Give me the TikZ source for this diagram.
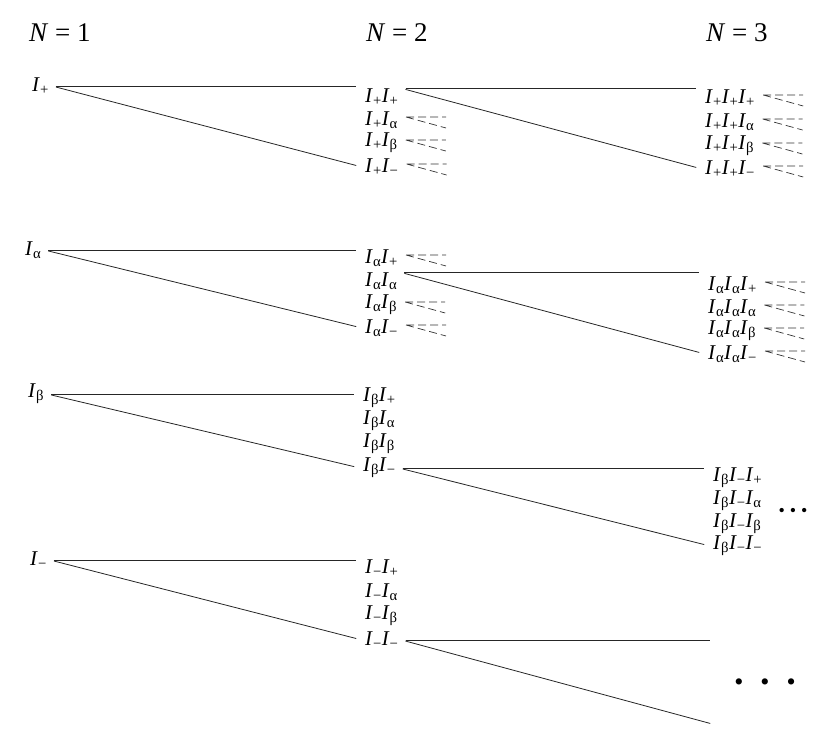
\documentclass[tikz,border=0pt]{standalone}
\usepackage{fontspec}
\setmainfont{Liberation Serif}
\newcommand{\Isub}[1]{\textit{I}\textsubscript{#1}}
\tikzset{
  lab/.style={anchor=west, inner xsep=3pt, inner ysep=0pt, font=\fontsize{21}{24}\selectfont},
  head/.style={anchor=west, inner sep=0pt, font=\fontsize{27}{30}\selectfont},
  branch/.style={line width=0.8pt, black!85, shorten <=4pt, shorten >=6pt},
  fan/.style={line width=0.7pt, black!80, dash pattern=on 8pt off 4pt}
}
\begin{document}
\begin{tikzpicture}[x=1pt, y=-1pt]
    \useasboundingbox (0,0) rectangle (840,747);

    % Column headings
    \node[head] (n1) at (29,33) {\textit{N} = 1};
    \node[head] (n2) at (366,33) {\textit{N} = 2};
    \node[head] (n3) at (706,33) {\textit{N} = 3};

    % N = 1 column
    \node[lab] (Ip) at (29,86) {\Isub{+}};
    \node[lab] (Ia) at (22,250) {\Isub{α}};
    \node[lab] (Ib) at (25,394) {\Isub{β}};
    \node[lab] (Im) at (27,560) {\Isub{−}};

    % N = 2 column, first letter +
    \node[lab] (Ipp) at (362,97) {\Isub{+}\Isub{+}};
    \node[lab] (Ipa) at (362,120) {\Isub{+}\Isub{α}};
    \node[lab] (Ipb) at (362,143) {\Isub{+}\Isub{β}};
    \node[lab] (Ipm) at (362,167) {\Isub{+}\Isub{−}};

    % N = 2 column, first letter alpha
    \node[lab] (Iap) at (362,258) {\Isub{α}\Isub{+}};
    \node[lab] (Iaa) at (362,281) {\Isub{α}\Isub{α}};
    \node[lab] (Iab) at (362,305) {\Isub{α}\Isub{β}};
    \node[lab] (Iam) at (362,328) {\Isub{α}\Isub{−}};

    % N = 2 column, first letter beta
    \node[lab] (Ibp) at (360,398) {\Isub{β}\Isub{+}};
    \node[lab] (Iba) at (360,421) {\Isub{β}\Isub{α}};
    \node[lab] (Ibb) at (360,444) {\Isub{β}\Isub{β}};
    \node[lab] (Ibm) at (360,468) {\Isub{β}\Isub{−}};

    % N = 2 column, first letter minus
    \node[lab] (Imp) at (362,568) {\Isub{−}\Isub{+}};
    \node[lab] (Ima) at (362,592) {\Isub{−}\Isub{α}};
    \node[lab] (Imb) at (362,616) {\Isub{−}\Isub{β}};
    \node[lab] (Imm) at (362,640) {\Isub{−}\Isub{−}};

    % N = 3 column
    \node[lab] (Ippp) at (702,98) {\Isub{+}\Isub{+}\Isub{+}};
    \node[lab] (Ippa) at (702,122) {\Isub{+}\Isub{+}\Isub{α}};
    \node[lab] (Ippb) at (702,146) {\Isub{+}\Isub{+}\Isub{β}};
    \node[lab] (Ippm) at (702,169) {\Isub{+}\Isub{+}\Isub{−}};

    \node[lab] (Iaap) at (705,285) {\Isub{α}\Isub{α}\Isub{+}};
    \node[lab] (Iaaa) at (705,308) {\Isub{α}\Isub{α}\Isub{α}};
    \node[lab] (Iaab) at (705,331) {\Isub{α}\Isub{α}\Isub{β}};
    \node[lab] (Iaam) at (705,354) {\Isub{α}\Isub{α}\Isub{−}};

    \node[lab] (Ibmp) at (710,478) {\Isub{β}\Isub{−}\Isub{+}};
    \node[lab] (Ibma) at (710,501) {\Isub{β}\Isub{−}\Isub{α}};
    \node[lab] (Ibmb) at (710,524) {\Isub{β}\Isub{−}\Isub{β}};
    \node[lab] (Ibmm) at (710,546) {\Isub{β}\Isub{−}\Isub{−}};

    % Branches from N = 1 to N = 2
    \draw[branch] (Ip.east) -- (Ip.east -| Ipp.west);
    \draw[branch] (Ip.east) -- (Ipm.west);
    \draw[branch] (Ia.east) -- (Ia.east -| Iap.west);
    \draw[branch] (Ia.east) -- (Iam.west);
    \draw[branch] (Ib.east) -- (Ib.east -| Ibp.west);
    \draw[branch] (Ib.east) -- (Ibm.west);
    \draw[branch] (Im.east) -- (Im.east -| Imp.west);
    \draw[branch] (Im.east) -- (Imm.west);

    % Branches from N = 2 to N = 3
    \draw[branch] (Ipp.north east) -- (Ipp.north east -| Ippp.west);
    \draw[branch] (Ipp.north east) -- (Ippm.west);
    \draw[branch] (Iaa.north east) -- (Iaa.north east -| Iaap.west);
    \draw[branch] (Iaa.north east) -- (Iaam.west);
    \draw[branch] (Ibm.east) -- (Ibm.east -| Ibmp.west);
    \draw[branch] (Ibm.east) -- (Ibmm.west);

    % Open branch of the last label
    \coordinate (mend) at (716,725);
    \draw[branch] (Imm.east) -- (Imm.east -| mend);
    \draw[branch] (Imm.east) -- (mend);

    % Dashed stubs for the branches not drawn
    \draw[fan] ([xshift=5pt,yshift=3pt]Ipa.east) -- +(40,0) ([xshift=5pt,yshift=3pt]Ipa.east) -- +(40,11);
    \draw[fan] ([xshift=5pt,yshift=3pt]Ipb.east) -- +(40,0) ([xshift=5pt,yshift=3pt]Ipb.east) -- +(40,11);
    \draw[fan] ([xshift=5pt,yshift=3pt]Ipm.east) -- +(40,0) ([xshift=5pt,yshift=3pt]Ipm.east) -- +(40,11);
    \draw[fan] ([xshift=5pt,yshift=3pt]Iap.east) -- +(40,0) ([xshift=5pt,yshift=3pt]Iap.east) -- +(40,11);
    \draw[fan] ([xshift=5pt,yshift=3pt]Iab.east) -- +(40,0) ([xshift=5pt,yshift=3pt]Iab.east) -- +(40,11);
    \draw[fan] ([xshift=5pt,yshift=3pt]Iam.east) -- +(40,0) ([xshift=5pt,yshift=3pt]Iam.east) -- +(40,11);
    \draw[fan] ([xshift=5pt,yshift=3pt]Ippp.east) -- +(40,0) ([xshift=5pt,yshift=3pt]Ippp.east) -- +(40,11);
    \draw[fan] ([xshift=5pt,yshift=3pt]Ippa.east) -- +(40,0) ([xshift=5pt,yshift=3pt]Ippa.east) -- +(40,11);
    \draw[fan] ([xshift=5pt,yshift=3pt]Ippb.east) -- +(40,0) ([xshift=5pt,yshift=3pt]Ippb.east) -- +(40,11);
    \draw[fan] ([xshift=5pt,yshift=3pt]Ippm.east) -- +(40,0) ([xshift=5pt,yshift=3pt]Ippm.east) -- +(40,11);
    \draw[fan] ([xshift=5pt,yshift=3pt]Iaap.east) -- +(40,0) ([xshift=5pt,yshift=3pt]Iaap.east) -- +(40,11);
    \draw[fan] ([xshift=5pt,yshift=3pt]Iaaa.east) -- +(40,0) ([xshift=5pt,yshift=3pt]Iaaa.east) -- +(40,11);
    \draw[fan] ([xshift=5pt,yshift=3pt]Iaab.east) -- +(40,0) ([xshift=5pt,yshift=3pt]Iaab.east) -- +(40,11);
    \draw[fan] ([xshift=5pt,yshift=3pt]Iaam.east) -- +(40,0) ([xshift=5pt,yshift=3pt]Iaam.east) -- +(40,11);

    % Ellipses
    \node[font=\fontsize{18}{20}\selectfont, inner sep=0pt] (moreb) at (793,512) {•\hspace{5pt}•\hspace{5pt}•};
    \node[font=\fontsize{26}{28}\selectfont, inner sep=0pt] (morem) at (765,685) {•\hspace{17pt}•\hspace{17pt}•};

\end{tikzpicture}
\end{document}
